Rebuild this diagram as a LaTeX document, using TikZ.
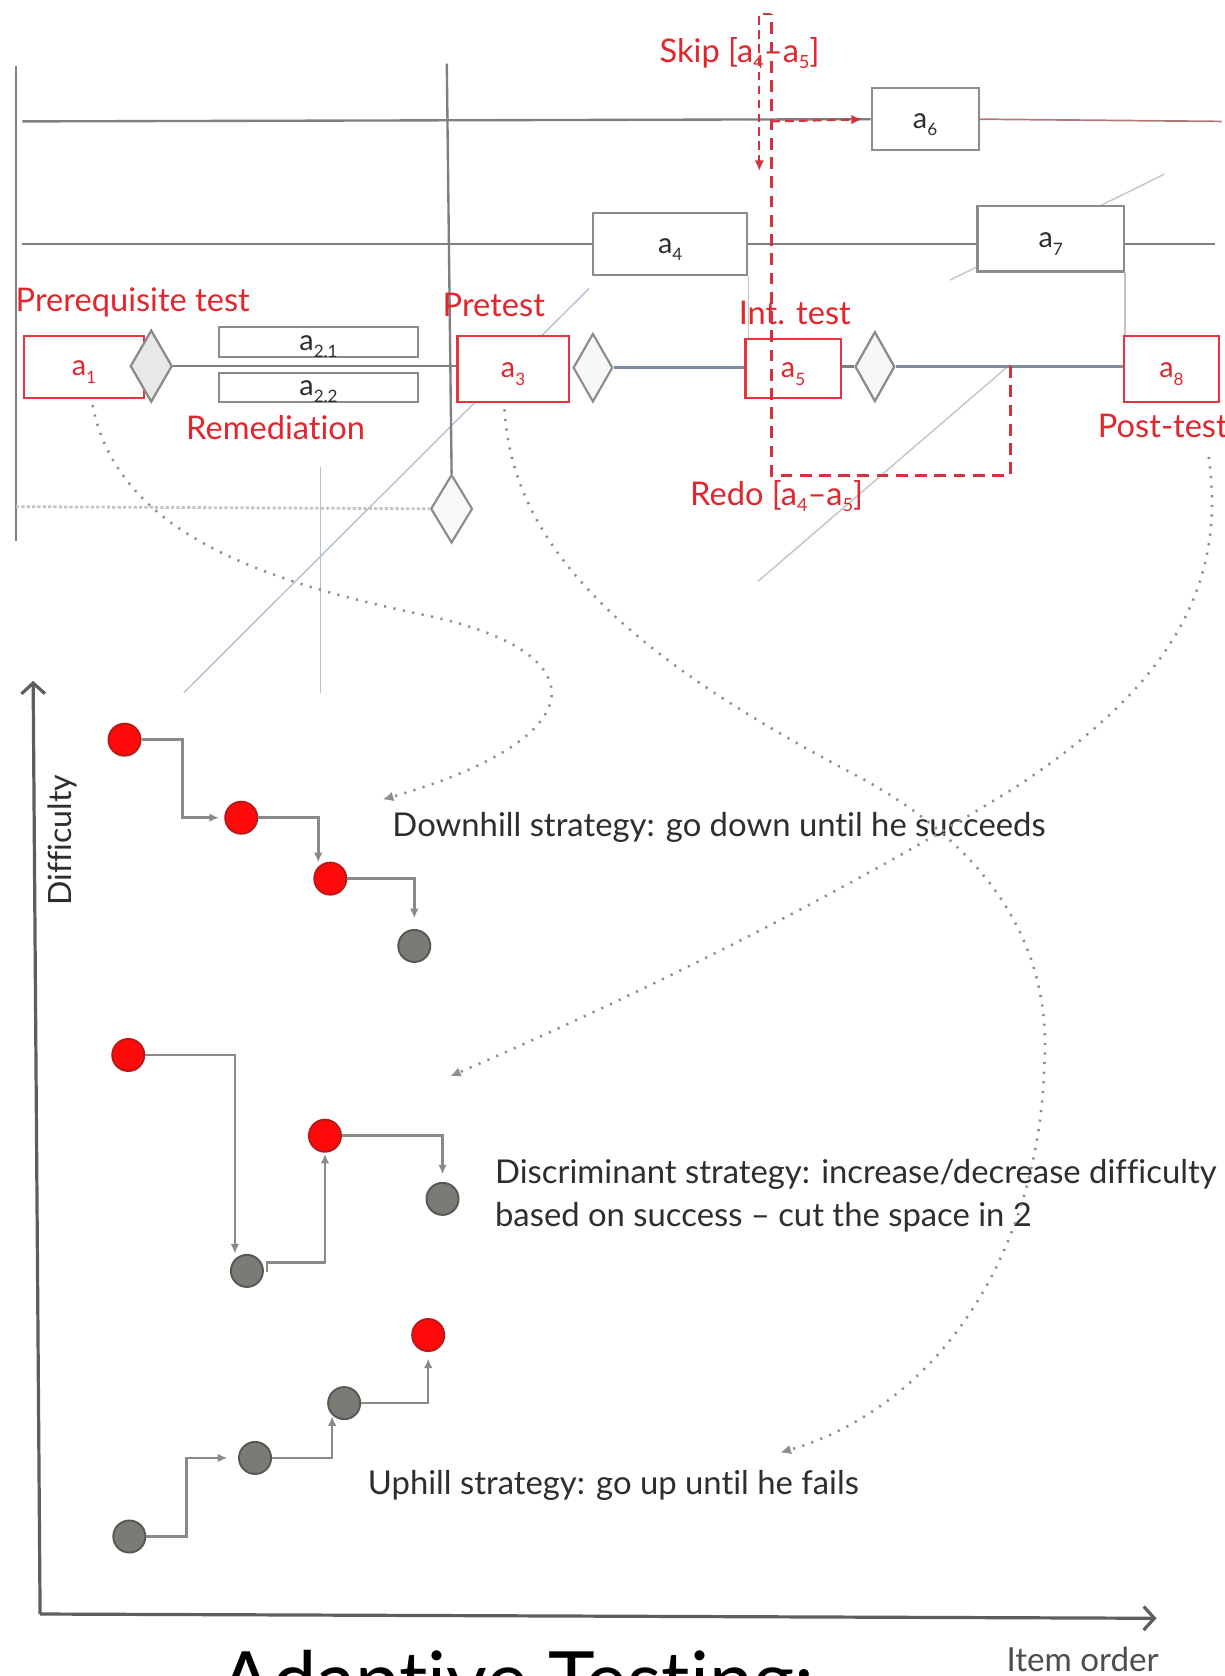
\documentclass[tikz,border=0pt]{standalone}
\usepackage{fontspec}
\setmainfont{Lato}[Ligatures=NoCommon]
\usetikzlibrary{shapes.geometric,arrows.meta,calc}

\definecolor{lanegray}{HTML}{7F7F7F}
\definecolor{boxgray}{HTML}{8C8C8C}
\definecolor{actred}{HTML}{E8333C}
\definecolor{labred}{HTML}{E2262E}
\definecolor{dashred}{HTML}{D2343F}
\definecolor{ink}{HTML}{2E2E2E}
\definecolor{dotgray}{HTML}{8E8E8E}
\definecolor{steelfaint}{HTML}{B3C0D3}
\definecolor{greyfaint}{HTML}{C4C4C4}
\definecolor{flowblue}{HTML}{7F8DA4}
\definecolor{ballred}{HTML}{FF0A0A}
\definecolor{ballredrim}{HTML}{B81A1A}
\definecolor{ballgray}{HTML}{7A7B75}
\definecolor{ballgrayrim}{HTML}{575853}
\definecolor{stepgray}{HTML}{8A8A8A}
\definecolor{axisgray}{HTML}{5E5E5E}
\definecolor{tailred}{HTML}{B07878}

% lowered index for activity names
\newcommand\ix[1]{\raisebox{-7pt}{\fontsize{16}{16}\selectfont #1}}
\newcommand\lix[1]{\raisebox{-6pt}{\fontsize{17}{17}\selectfont #1}}

\begin{document}
\begin{tikzpicture}[x=1pt,y=-1pt,
  lane/.style={draw=lanegray, line width=2.2pt},
  act/.style={rectangle, draw=boxgray, line width=2pt, fill=white, inner sep=0pt,
              text=ink, font=\fontsize{27}{27}\selectfont, text height=17pt, text depth=0pt},
  testact/.style={act, draw=actred, text=labred},
  thinact/.style={act, text height=15pt},
  gate/.style={diamond, draw=boxgray, line width=2pt, fill=#1, inner sep=0pt},
  redlab/.style={inner sep=0pt, anchor=base west, text=labred, font=\fontsize{30.5}{30.5}\selectfont},
  strat/.style={inner sep=0pt, anchor=base west, text=ink, font=\fontsize{30.7}{30.7}\selectfont},
  ball/.style={circle, inner sep=0pt, minimum size=30pt, line width=1.8pt},
  hit/.style={ball, fill=ballred, draw=ballredrim},
  miss/.style={ball, fill=ballgray, draw=ballgrayrim},
  stepline/.style={draw=stepgray, line width=2.4pt, -{Latex[length=9pt,width=8pt]}},
  dotcurve/.style={draw=dotgray, line width=2.4pt, dash pattern=on 2pt off 7pt,
                   -{Latex[length=10pt,width=9pt]}},
  loopdash/.style={draw=dashred, line width=2.8pt, dash pattern=on 11pt off 7pt},
  skipdash/.style={draw=dashred, line width=2pt, dash pattern=on 8pt off 5pt,
                   -{Latex[length=10pt,width=9pt]}},
  axisline/.style={draw=axisgray, line width=3pt, -{Straight Barb[length=10pt,width=22pt]}},
  faint/.style={line width=1.3pt}
]
\useasboundingbox (0,0) rectangle (1146,1568);
\clip (0,0) rectangle (1146,1568);
\fill[white] (0,0) rectangle (1146,1568);

% ---------- faint construction lines behind the flow ----------
\draw[faint, steelfaint] (551,270) -- (172,648);
\draw[faint, steelfaint] (300,437) -- (300,648);
\draw[faint, greyfaint] (945,341) -- (709,544);
\draw[faint, greyfaint] (889,262) -- (1089,163);

% ---------- activities ----------
\node[testact, minimum width=113pt, minimum height=58pt] (a1) at (78.6,343) {a\ix{1}};
\node[thinact, minimum width=186pt, minimum height=28pt] (a21) at (298,320) {a\ix{2.1}};
\node[thinact, minimum width=186pt, minimum height=27pt] (a22) at (298,362.5) {a\ix{2.2}};
\node[testact, minimum width=104pt, minimum height=62pt] (a3) at (480,345) {a\ix{3}};
\node[act, minimum width=144pt, minimum height=58pt] (a4) at (627,228.5) {a\ix{4}};
\node[testact, minimum width=89pt, minimum height=55pt] (a5) at (742,345) {a\ix{5}};
\node[act, minimum width=100pt, minimum height=58pt] (a6) at (865.5,111.5) {a\ix{6}};
\node[act, minimum width=137pt, minimum height=61pt] (a7) at (983,223.5) {a\ix{7}};
\node[testact, minimum width=89pt, minimum height=62pt] (a8) at (1096,345) {a\ix{8}};

% ---------- decision gates ----------
\node[gate=gray!18, minimum width=39pt, minimum height=67pt] (g1) at (141.5,342.5) {};
\node[gate=gray!6, minimum width=37pt, minimum height=64pt] (g2) at (554.7,344) {};
\node[gate=gray!6, minimum width=37pt, minimum height=65pt] (g3) at (818.5,343) {};
\node[gate=gray!5, minimum width=39pt, minimum height=64pt] (gb) at (422.5,476) {};

% ---------- swim lanes and flow ----------
\draw[lane] (14.8,61.8) -- (14.8,506);
\draw[lane] (418,59.5) -- (gb.north);
\draw[lane] (21,113.6) -- (a6.west);
\draw[draw=tailred, line width=1.6pt] (a6.east) -- (1143,113.6);
\draw[lane] (21,228) -- (a4.west |- 0,228);
\draw[lane] (a4.east |- 0,228) -- (a7.west |- 0,228);
\draw[lane] (a7.east |- 0,228) -- (1137,228);
\draw[lane] (g1.east) -- (g1.east -| a3.west);
\draw[draw=flowblue, line width=2.4pt] (g2.east) -- (g2.east -| a5.west);
\draw[lane] (a5.east |- g3.west) -- (g3.west);
\draw[draw=flowblue, line width=2.4pt] (g3.east) -- (g3.east -| a8.west);
\draw[draw=greyfaint, line width=2.6pt, dash pattern=on 3pt off 2pt] (15,474) -- (gb.west);
\draw[faint, greyfaint] (a4.south east) -- (a4.south east |- a5.north);
\draw[faint, greyfaint] (a7.south east) -- (a7.south east |- a8.north);

% redraw gates over the flow lines
\node[gate=gray!18, minimum width=39pt, minimum height=67pt] at (g1) {};
\node[gate=gray!6, minimum width=37pt, minimum height=65pt] at (g3) {};

% ---------- labels of the flow ----------
\node[redlab] (prereq) at (14.5,291) {Prerequisite test};
\node[redlab] (pretest) at (414,296) {Pretest};
\node[redlab] (remed) at (174,411) {Remediation};
\node[redlab] (inttest) at (691,304) {Int. test};
\node[redlab] (posttest) at (1027,409) {Post-test};
\node[redlab] (skip) at (617,58.5) {Skip [a\lix{4}--a\lix{5}]};
\node[redlab] (redo) at (645.5,473) {Redo [a\lix{4}--a\lix{5}]};

% ---------- skip and redo paths ----------
\coordinate (redoStart) at (945.3,342.5);
\coordinate (loopTop) at (721.6,13.4);
\coordinate (skipDown) at (710.4,160);
\draw[loopdash] (redoStart) -- (945.3,444.4) -- (721.6,444.4) -- (loopTop);
\draw[skipdash] (loopTop) -- (710.4,13.4) -- (skipDown);
\draw[skipdash, shorten >=8pt] (721.6,113.6) -- (a6.west);

% ---------- strategy plot ----------
\coordinate (origin) at (37.5,1510);
\coordinate (ytop) at (31,637);
\coordinate (xend) at (1082,1514);
\draw[axisline] (origin) -- (ytop);
\draw[axisline] (origin) -- (xend);

\node[inner sep=0pt, anchor=base west, rotate=90, text=ink, font=\fontsize{30}{30}\selectfont]
  (difftxt) at (66.7,847.6) {Difficulty};
\node[inner sep=0pt, anchor=base west, text=ink!85, font=\fontsize{31}{31}\selectfont]
  (itemtxt) at (941.5,1563.8) {Item order};

% downhill
\node[hit] (dn1) at (116.5,692) {};
\node[hit] (dn2) at (225.7,765) {};
\node[hit] (dn3) at (309,822) {};
\node[miss] (dn4) at (387.6,885) {};
\draw[stepline, shorten >=5pt] (dn1.east) -| (171,730) |- (dn2.west);
\draw[stepline, shorten >=4pt] (dn2.east) -| (dn3.north west);
\draw[stepline, shorten >=10pt] (dn3.east) -| (dn4.north);

% discriminant
\node[hit] (ds1) at (120,987) {};
\node[miss] (ds2) at (231,1189) {};
\node[hit] (ds3) at (304,1062.5) {};
\node[miss] (ds4) at (414,1121.6) {};
\draw[stepline, shorten >=5pt] (ds1.east) -| (ds2.north west);
\draw[stepline, shorten >=1pt] ($(ds2.east)+(3,1)$) -- ++(0,-9) -| (ds3.south);
\draw[stepline, shorten >=7pt] (ds3.east) -| (ds4.north);

% uphill
\node[miss] (up1) at (121,1437.5) {};
\node[miss] (up2) at (238.6,1364) {};
\node[miss] (up3) at (322,1312.7) {};
\node[hit] (up4) at (400.6,1249) {};
\draw[stepline, shorten >=10pt] (up1.east) -| (174.6,1400) |- (up2.west);
\draw[stepline, shorten >=1pt] (up2.east) -| (up3.south west);
\draw[stepline, shorten >=6pt] (up3.east) -| (up4.south);

\node[strat] (downtxt) at (367,783) {Downhill strategy: go down until he succeeds};
\node[strat] (disctxt) at (463,1107) {Discriminant strategy: increase/decrease difficulty};
\node[strat] (disctxtb) at (463,1147.5) {based on success -- cut the space in 2};
\node[strat] (uptxt) at (344,1398.5) {Uphill strategy: go up until he fails};

% ---------- links from tests to strategies ----------
\coordinate (downIn) at (358,748);
\coordinate (discIn) at (421,1007);
\coordinate (upIn) at (730,1359);
\draw[dotcurve] ($(a1.south)+(8,6)$) .. controls (110,500) and (250,545) .. (400,576)
  .. controls (560,610) and (560,690) .. (downIn);
\draw[dotcurve] ($(a3.south)+(-8,6)$) .. controls (480,520) and (600,620) .. (804,727)
  .. controls (920,790) and (985,880) .. (977,997)
  .. controls (972,1170) and (880,1315) .. (upIn);
\draw[dotcurve] ($(posttest.south east)+(-18,18)$) .. controls (1150,560) and (1080,650) .. (954,734)
  .. controls (800,830) and (600,930) .. (discIn);

% ---------- title ----------
\node[inner sep=0pt, anchor=base west, text=black, font=\fontsize{74}{74}\selectfont]
  (title) at (205,1598) {Adaptive Testing:};
\end{tikzpicture}
\end{document}
